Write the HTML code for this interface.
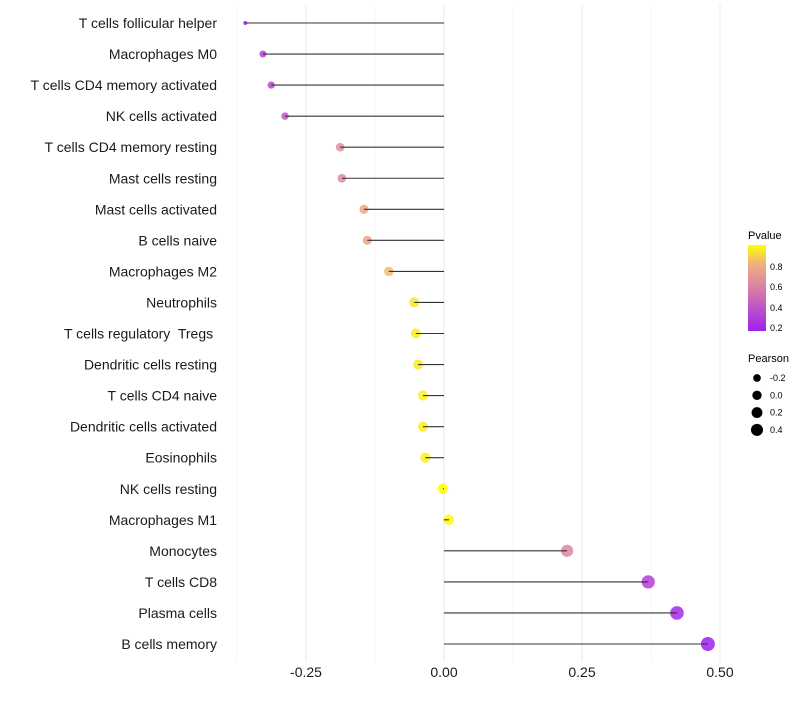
<!DOCTYPE html>
<html><head><meta charset="utf-8"><style>
body{margin:0;background:#fff;font-family:"Liberation Sans",sans-serif}
svg text{font-family:"Liberation Sans",sans-serif;white-space:pre}
</style></head><body>
<svg id="chart" width="800" height="700" xmlns="http://www.w3.org/2000/svg">
<defs><linearGradient id="pg" x1="0" y1="1" x2="0" y2="0">
<stop offset="0" stop-color="#a020f0"/><stop offset="0.5" stop-color="#d97fa6"/><stop offset="0.78" stop-color="#f0b07f"/><stop offset="1" stop-color="#ffff00"/></linearGradient></defs>
<g id="grid"></g>
<g id="marks"></g>
<g id="labels"></g>
<g id="xticks"></g>
<g>
<text x="748" y="239" font-size="11" fill="#000">Pvalue</text>
<rect x="748" y="245" width="18" height="86" fill="url(#pg)"/>
<text x="770" y="270" font-size="9">0.8</text><text x="770" y="290" font-size="9">0.6</text>
<text x="770" y="311" font-size="9">0.4</text><text x="770" y="331" font-size="9">0.2</text>
</g>
<g id="sizeleg">
<text x="748" y="362" font-size="11" fill="#000">Pearson</text>
</g>
</svg>
<script>
const categories=["T cells follicular helper","Macrophages M0","T cells CD4 memory activated","NK cells activated","T cells CD4 memory resting","Mast cells resting","Mast cells activated","B cells naive","Macrophages M2","Neutrophils","T cells regulatory  Tregs ","Dendritic cells resting","T cells CD4 naive","Dendritic cells activated","Eosinophils","NK cells resting","Macrophages M1","Monocytes","T cells CD8","Plasma cells","B cells memory"];
const pearson=[-0.360,-0.328,-0.313,-0.288,-0.188,-0.185,-0.145,-0.139,-0.100,-0.054,-0.051,-0.047,-0.038,-0.038,-0.034,-0.002,0.009,0.223,0.370,0.422,0.478];
const pvalue=[0.15,0.30,0.33,0.40,0.64,0.64,0.76,0.76,0.84,0.94,0.95,0.95,0.96,0.96,0.96,1.00,0.99,0.62,0.30,0.20,0.16];
const xTicks=[-0.25,0,0.25,0.5];
const xTickLabels=["-0.25","0.00","0.25","0.50"];
const minorTicks=[-0.375,-0.125,0.125,0.375];
const sizeLegend=[-0.2,0,0.2,0.4];
const sizeLegendLabels=["-0.2","0.0","0.2","0.4"];

const NS="http://www.w3.org/2000/svg";
const x=v=>444+v*552;
const y=i=>23+i*31.05;
const r=v=>v<-0.35?2:Math.sqrt(Math.max(27.2+45.4*v,3));
function lerp(a,b,t){return a.map((c,k)=>Math.round(c+(b[k]-c)*t));}
function col(p){const t=Math.min(1,Math.max(0,(p-0.16)/0.84));
const st=[[0,[160,32,240]],[0.5,[217,127,166]],[0.78,[240,176,127]],[1,[255,255,0]]];
for(let k=1;k<st.length;k++){if(t<=st[k][0]){const c=lerp(st[k-1][1],st[k][1],(t-st[k-1][0])/(st[k][0]-st[k-1][0]));return `rgb(${c})`;}}return "rgb(255,255,0)";}
function mk(tag,at,parent){const e=document.createElementNS(NS,tag);for(const k in at)e.setAttribute(k,at[k]);parent.appendChild(e);return e;}
const grid=document.getElementById('grid'),marks=document.getElementById('marks'),labels=document.getElementById('labels'),xt=document.getElementById('xticks');
minorTicks.forEach(v=>{const l=mk('line',{x1:x(v),x2:x(v),y1:5,y2:662,stroke:'#f2f2f2','stroke-width':0.6},grid);

});
xTicks.forEach((v,i)=>{const l=mk('line',{x1:x(v),x2:x(v),y1:5,y2:662,stroke:'#ebebeb','stroke-width':1.1},grid);


const t=mk('text',{x:x(v),y:677,'font-size':14,'text-anchor':'middle',fill:'#1a1a1a'},xt);t.textContent=xTickLabels[i];

});
categories.forEach((c,i)=>{
const t=mk('text',{x:217,y:y(i)+5,'font-size':14,'text-anchor':'end',fill:'#1a1a1a'},labels);t.textContent=c;


const p=mk('circle',{cx:x(pearson[i]),cy:y(i),r:r(pearson[i]),fill:col(pvalue[i]),'fill-opacity':0.85},marks);


const s=mk('line',{x1:x(0),x2:x(pearson[i]),y1:y(i),y2:y(i),stroke:'#333','stroke-width':1.1},marks);

});
const sl=document.getElementById('sizeleg');
sizeLegend.forEach((v,i)=>{const cy=378+i*17.3;
const c=mk('circle',{cx:757,cy:cy,r:r(v)*0.9,fill:'#000'},sl);


const t=mk('text',{x:770,y:cy+3,'font-size':9},sl);t.textContent=sizeLegendLabels[i];

});
</script>
</body></html>
